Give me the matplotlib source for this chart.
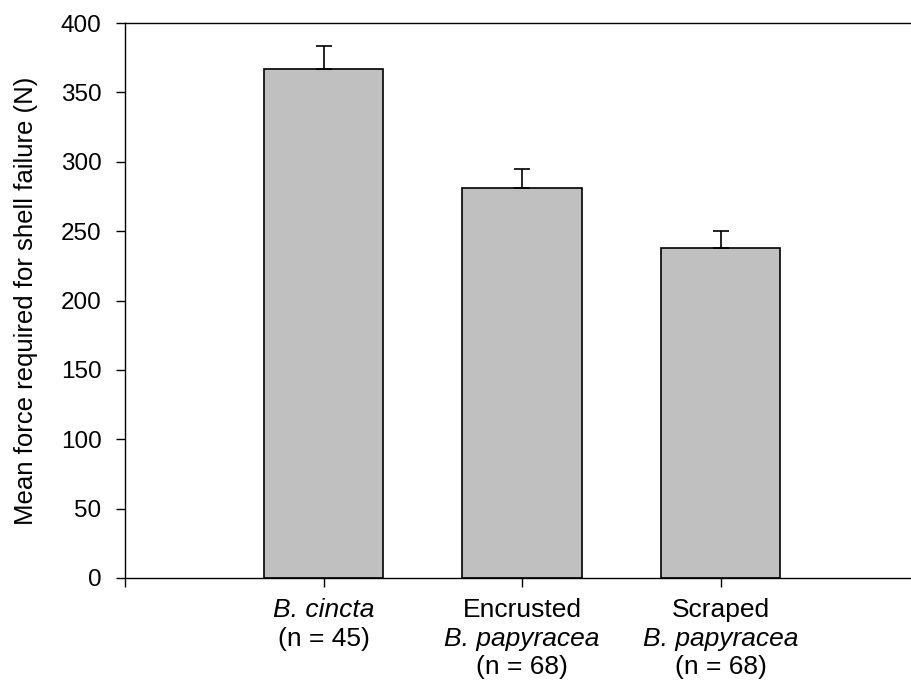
import matplotlib
matplotlib.use("Agg")
import matplotlib.pyplot as plt
import matplotlib.transforms as mtransforms

# Data
positions = [1, 2, 3]
means = [367, 281, 238]
sem = [16.5, 13.7, 12.0]
label_lines = [
    [("B. cincta", "italic"), ("(n = 45)", "normal")],
    [("Encrusted", "normal"), ("B. papyracea", "italic"), ("(n = 68)", "normal")],
    [("Scraped", "normal"), ("B. papyracea", "italic"), ("(n = 68)", "normal")],
]
yticks = [0, 50, 100, 150, 200, 250, 300, 350, 400]
ylabel = "Mean force required for shell failure (N)"

plt.rcParams['font.family'] = ['Liberation Sans', 'DejaVu Sans']
FS_TICK = 17.5
FS_YLAB = 18.5
FS_XLAB = 19

W, H = 911, 681
fig = plt.figure(figsize=(W / 100, H / 100), dpi=100)
ax_left, ax_right, ax_top, ax_bottom = 125, 919, 23, 578
ax = fig.add_axes([ax_left / W, (H - ax_bottom) / H,
                   (ax_right - ax_left) / W, (ax_bottom - ax_top) / H])

ax.bar(positions, means, width=0.6, color="#c0c0c0", edgecolor="black",
       linewidth=1.2, zorder=2)
ax.errorbar(positions, means, yerr=[[0] * len(sem), sem], fmt="none",
            ecolor="black", elinewidth=1.2, capsize=5.8, capthick=1.2, zorder=3)

ax.set_xlim(0, 4)
ax.set_ylim(0, 400)
ax.set_yticks(yticks)
ax.set_xticks([0] + positions)
ax.set_xticklabels([""] * 4)
ax.tick_params(axis="both", direction="out", length=6.5, width=1.0,
               labelsize=FS_TICK, colors="black")
ax.tick_params(axis="y", pad=10.5)
ax.spines["right"].set_visible(False)
for s in ["left", "bottom", "top"]:
    ax.spines[s].set_linewidth(1.0)

ax.set_ylabel(ylabel, fontsize=FS_YLAB)
ax.yaxis.set_label_coords(-(ax_left - 38) / (ax_right - ax_left), 0.5)

trans = mtransforms.blended_transform_factory(ax.transData, ax.transAxes)
baselines = [28.1, 49.0, 69.3]  # points below the axis
for x, lines in zip(positions, label_lines):
    for i, (txt, style) in enumerate(lines):
        off = mtransforms.offset_copy(trans, fig=fig, x=0, y=-baselines[i], units="points")
        ax.text(x, 0, txt, transform=off, ha="center", va="baseline",
                fontsize=FS_XLAB, fontstyle=style)

fig.savefig("out.png", dpi=100)
